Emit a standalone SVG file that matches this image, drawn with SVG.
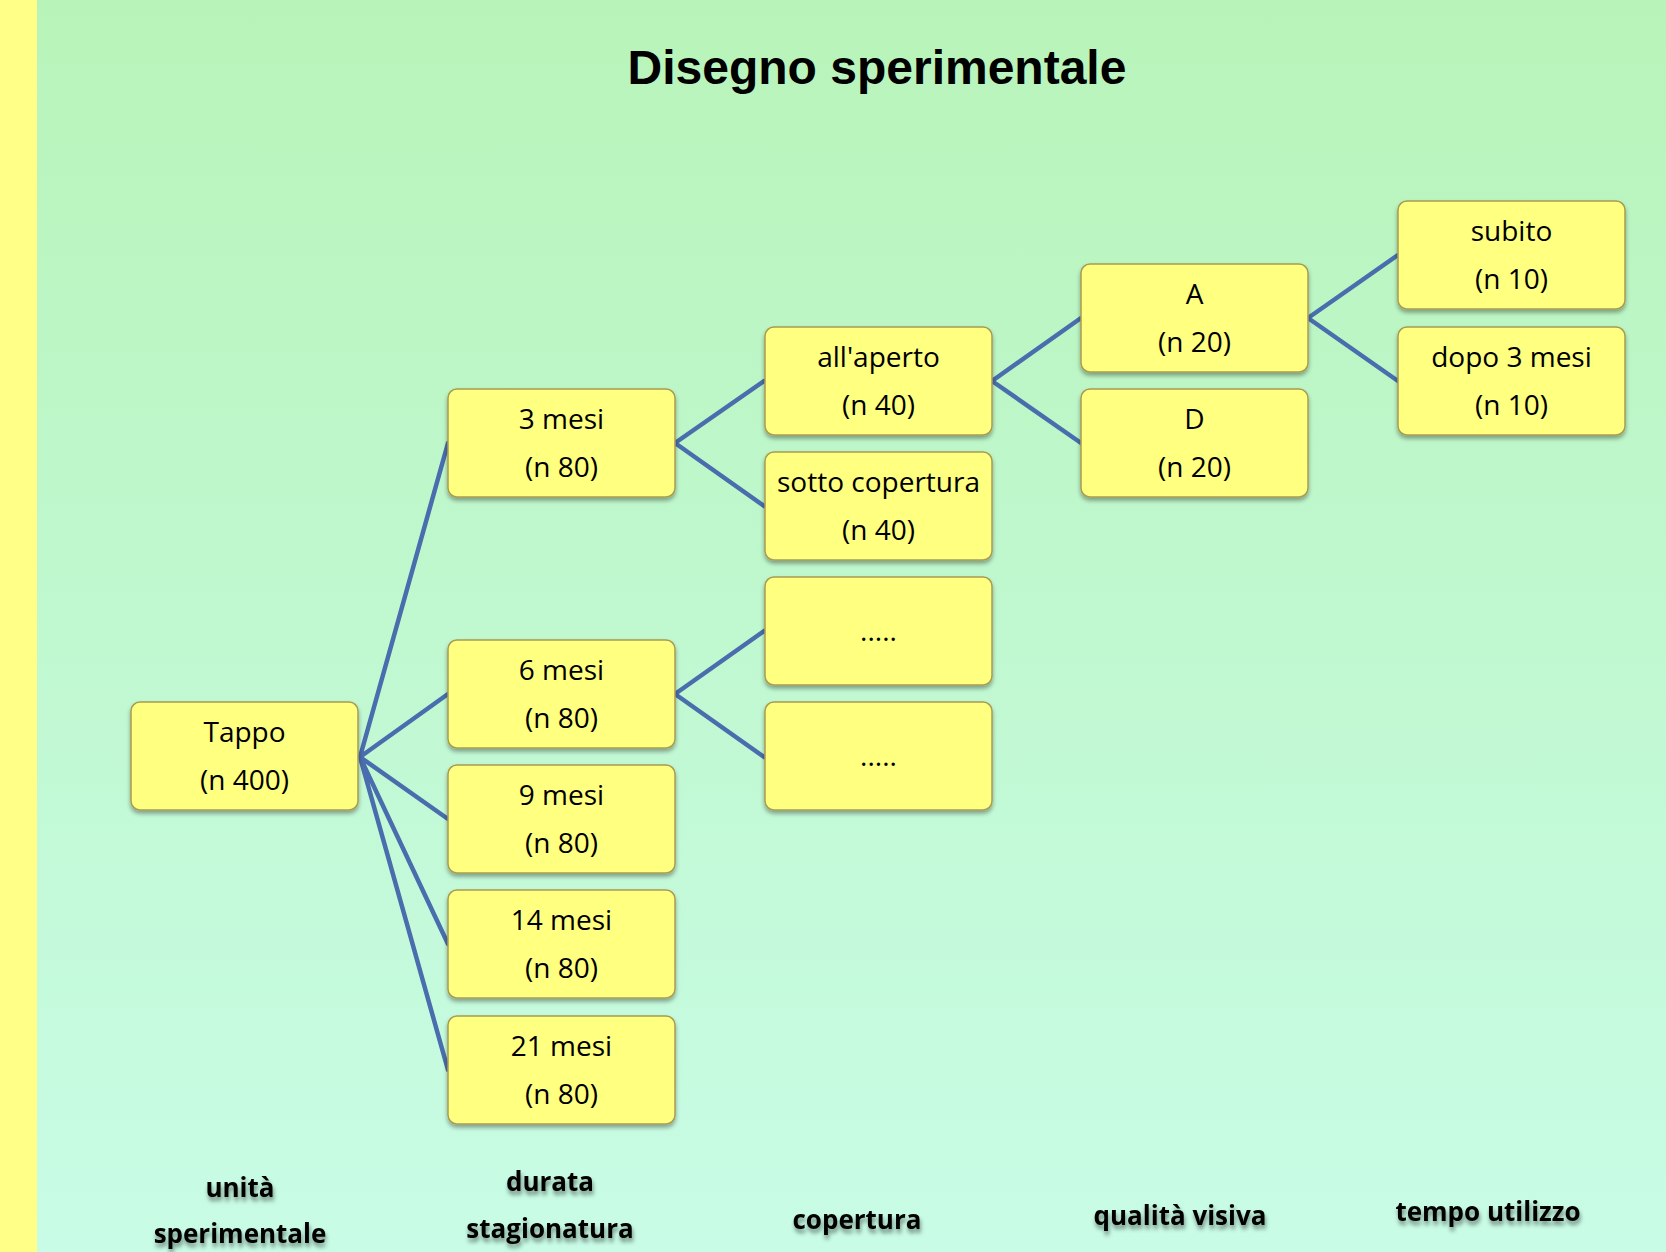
<svg xmlns="http://www.w3.org/2000/svg" width="1666" height="1252" viewBox="0 0 1666 1252">
<defs>
<linearGradient id="bg" x1="0" y1="0" x2="0" y2="1">
<stop offset="0" stop-color="#B8F4B9"/>
<stop offset="1" stop-color="#C8FCE6"/>
</linearGradient>
<filter id="sh" x="-10%" y="-10%" width="120%" height="130%">
<feDropShadow dx="0" dy="3" stdDeviation="2" flood-color="#000" flood-opacity="0.35"/>
</filter>
<filter id="tsh" x="-10%" y="-20%" width="120%" height="160%">
<feDropShadow dx="1" dy="4" stdDeviation="2" flood-color="#000" flood-opacity="0.45"/>
</filter>
<style>
.box{fill:#FFFF80;stroke:#A89C50;stroke-width:1.5;filter:url(#sh)}
.t{font-family:"Open Sans","Liberation Sans",sans-serif;font-size:28px;fill:#000;text-anchor:middle}
.lab{font-family:"Open Sans","Liberation Sans",sans-serif;font-size:26px;font-weight:bold;fill:#000;text-anchor:middle;filter:url(#tsh)}
.title{font-family:"Liberation Sans",Arial,sans-serif;font-size:48px;font-weight:bold;fill:#000;text-anchor:middle}
.c{stroke:#4A6DAD;stroke-width:4.5;fill:none;stroke-linecap:round}
</style>
</defs>
<rect x="0" y="0" width="1666" height="1252" fill="url(#bg)"/>
<rect x="0" y="0" width="37" height="1252" fill="#FFFF88"/>
<text class="title" x="877" y="84">Disegno sperimentale</text>

<g id="connectors">
<path class="c" d="M360 757 L448 443 M360 757 L448 694 M360 757 L448 819 M360 757 L448 944 M360 757 L448 1070"/>
<path class="c" d="M675 443 L764 381 M675 443 L764 506"/>
<path class="c" d="M675 694 L764 631 M675 694 L764 757"/>
<path class="c" d="M992 381 L1081 318 M992 381 L1081 443"/>
<path class="c" d="M1308 318 L1398 255 M1308 318 L1398 381"/>
</g>

<g id="n-tappo"><rect class="box" x="131" y="702" width="227" height="108" rx="9"/><text class="t" x="244.5" y="742">Tappo</text><text class="t" x="244.5" y="790">(n 400)</text></g>

<g id="n-3mesi"><rect class="box" x="448" y="389" width="227" height="108" rx="9"/><text class="t" x="561.5" y="429">3 mesi</text><text class="t" x="561.5" y="477">(n 80)</text></g>
<g id="n-6mesi"><rect class="box" x="448" y="640" width="227" height="108" rx="9"/><text class="t" x="561.5" y="680">6 mesi</text><text class="t" x="561.5" y="728">(n 80)</text></g>
<g id="n-9mesi"><rect class="box" x="448" y="765" width="227" height="108" rx="9"/><text class="t" x="561.5" y="805">9 mesi</text><text class="t" x="561.5" y="853">(n 80)</text></g>
<g id="n-14mesi"><rect class="box" x="448" y="890" width="227" height="108" rx="9"/><text class="t" x="561.5" y="930">14 mesi</text><text class="t" x="561.5" y="978">(n 80)</text></g>
<g id="n-21mesi"><rect class="box" x="448" y="1016" width="227" height="108" rx="9"/><text class="t" x="561.5" y="1056">21 mesi</text><text class="t" x="561.5" y="1104">(n 80)</text></g>

<g id="n-aperto"><rect class="box" x="765" y="327" width="227" height="108" rx="9"/><text class="t" x="878.5" y="367">all'aperto</text><text class="t" x="878.5" y="415">(n 40)</text></g>
<g id="n-sotto"><rect class="box" x="765" y="452" width="227" height="108" rx="9"/><text class="t" x="878.5" y="492">sotto copertura</text><text class="t" x="878.5" y="540">(n 40)</text></g>
<g id="n-dots1"><rect class="box" x="765" y="577" width="227" height="108" rx="9"/><text class="t" x="878.5" y="641">.....</text></g>
<g id="n-dots2"><rect class="box" x="765" y="702" width="227" height="108" rx="9"/><text class="t" x="878.5" y="766">.....</text></g>

<g id="n-A"><rect class="box" x="1081" y="264" width="227" height="108" rx="9"/><text class="t" x="1194.5" y="304">A</text><text class="t" x="1194.5" y="352">(n 20)</text></g>
<g id="n-D"><rect class="box" x="1081" y="389" width="227" height="108" rx="9"/><text class="t" x="1194.5" y="429">D</text><text class="t" x="1194.5" y="477">(n 20)</text></g>

<g id="n-subito"><rect class="box" x="1398" y="201" width="227" height="108" rx="9"/><text class="t" x="1511.5" y="241">subito</text><text class="t" x="1511.5" y="289">(n 10)</text></g>
<g id="n-dopo"><rect class="box" x="1398" y="327" width="227" height="108" rx="9"/><text class="t" x="1511.5" y="367">dopo 3 mesi</text><text class="t" x="1511.5" y="415">(n 10)</text></g>

<g id="labels">
<text class="lab" x="240" y="1197">unità</text>
<text class="lab" x="240" y="1243">sperimentale</text>
<text class="lab" x="550" y="1191">durata</text>
<text class="lab" x="550" y="1238">stagionatura</text>
<text class="lab" x="857" y="1229">copertura</text>
<text class="lab" x="1180" y="1225">qualità visiva</text>
<text class="lab" x="1488" y="1221">tempo utilizzo</text>
</g>
</svg>
